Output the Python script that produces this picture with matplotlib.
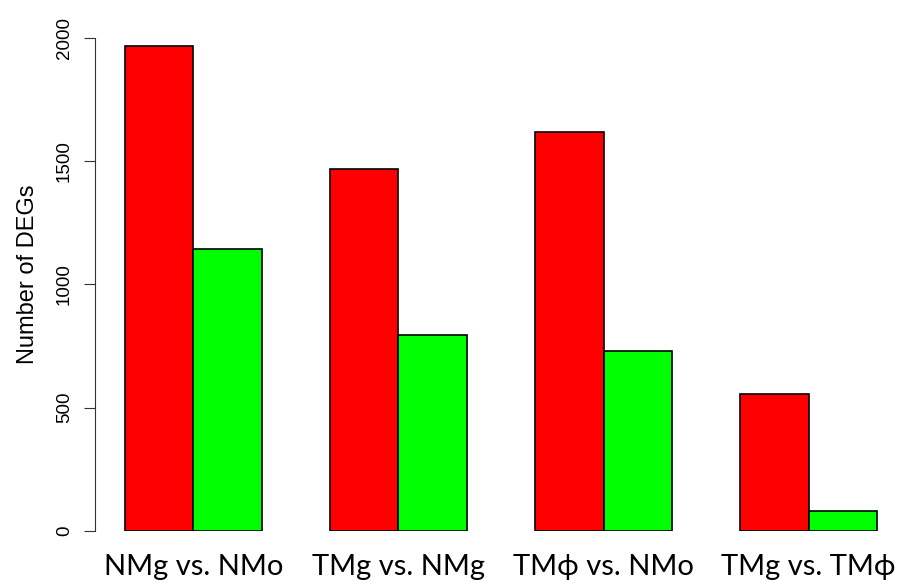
import matplotlib
matplotlib.use("Agg")
import matplotlib.pyplot as plt
import numpy as np

groups = ["NMg vs. NMo", "TMg vs. NMg", "TMϕ vs. NMo", "TMg vs. TMϕ"]
up = [1967, 1468, 1618, 556]
down = [1144, 795, 730, 81]
yticks = [0, 500, 1000, 1500, 2000]

W, H = 910, 586
fig = plt.figure(figsize=(W / 100, H / 100), dpi=100)
ax = fig.add_axes([95 / W, (H - 531) / H, (907 - 95) / W, 513 / H])

# R barplot layout: beside=TRUE, space=c(0,1)
left = 1 + 3 * np.arange(len(groups))
ax.bar(left, up, width=1, align="edge", color="#ff0000", edgecolor="black", linewidth=1.2)
ax.bar(left + 1, down, width=1, align="edge", color="#00ff00", edgecolor="black", linewidth=1.2)

ax.set_xlim(0.56, 12.44)
ax.set_ylim(0, 2080)

for s in ["top", "right", "bottom"]:
    ax.spines[s].set_visible(False)
ax.spines["left"].set_bounds(0, 2000)
ax.spines["left"].set_color("#333333")
ax.set_yticks(yticks)
ax.set_yticklabels([str(v) for v in yticks], rotation=90, va="center",
                   fontsize=13.5, family="Liberation Sans")
ax.tick_params(axis="y", length=8, color="#333333", pad=8)
ax.set_xticks([])
ax.set_ylabel("Number of DEGs", fontsize=17, family="Liberation Sans", labelpad=12)

for x, g in zip(left + 1, groups):
    ax.text(x, -145, g, ha="center", va="center", fontsize=21,
            family=["Lato", "DejaVu Sans"])

fig.savefig("out.png", dpi=100)
